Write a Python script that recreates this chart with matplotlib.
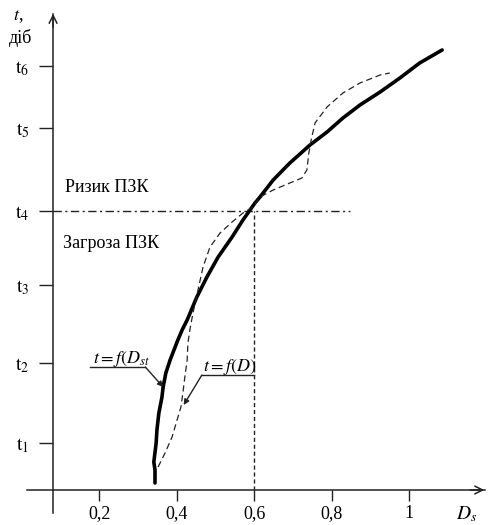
import matplotlib
matplotlib.use('Agg')
import matplotlib.pyplot as plt

plt.rcParams['font.family'] = ['Liberation Serif', 'DejaVu Serif']
plt.rcParams['mathtext.fontset'] = 'stix'

# thick curve t = f(D_st)
dst_x = [0.344, 0.344, 0.341, 0.347, 0.349, 0.354, 0.362, 0.365, 0.372, 0.383, 0.396,
         0.403, 0.414, 0.427, 0.452, 0.478, 0.507, 0.543, 0.571, 0.602, 0.615, 0.649,
         0.692, 0.744, 0.788, 0.829, 0.873, 0.925, 0.976, 1.027, 1.085]
dst_t = [0.07, 0.20, 0.28, 0.47, 0.60, 0.77, 0.93, 1.03, 1.17, 1.30, 1.43,
         1.50, 1.60, 1.70, 1.93, 2.13, 2.33, 2.53, 2.70, 2.87, 2.93, 3.10,
         3.27, 3.45, 3.58, 3.72, 3.85, 3.98, 4.12, 4.27, 4.40]

# dashed curve t = f(D)
d_x = [0.352, 0.370, 0.388, 0.401, 0.411, 0.416, 0.421, 0.427, 0.429, 0.434, 0.442,
       0.455, 0.468, 0.486, 0.512, 0.543, 0.571, 0.597, 0.615, 0.649, 0.692, 0.723,
       0.736, 0.741, 0.747, 0.757, 0.788, 0.829, 0.873, 0.925, 0.950]
d_t = [0.23, 0.37, 0.53, 0.70, 0.83, 0.97, 1.13, 1.30, 1.47, 1.60, 1.77,
       2.00, 2.23, 2.43, 2.57, 2.68, 2.77, 2.83, 2.93, 3.00, 3.07, 3.12,
       3.20, 3.37, 3.50, 3.67, 3.83, 3.97, 4.07, 4.15, 4.17]

x_ticks = [0.2, 0.4, 0.6, 0.8, 1.0]
x_labels = ['0,2', '0,4', '0,6', '0,8', '1']
t_ticks = [0.47, 1.27, 2.05, 2.79, 3.62, 4.24]
t_labels = [r'$\mathrm{t}_{%d}$' % i for i in range(1, 7)]

t_risk = 2.79      # t4 threshold
d_risk = 0.6

ink = '#222222'
fs = 13

fig = plt.figure(figsize=(4.88, 5.25), dpi=100)
ax = fig.add_axes([0, 0, 1, 1])
ax.set_xlim(-0.056, 1.2034)
ax.set_ylim(-0.35, 4.90)

# axes drawn through the plot, with arrow heads
y_axis_x = 0.081
ax.spines['top'].set_visible(False)
ax.spines['right'].set_visible(False)
ax.spines['left'].set_position(('data', y_axis_x))
ax.spines['bottom'].set_position(('data', 0))
ax.spines['left'].set_bounds(-0.23, 4.76)
ax.spines['bottom'].set_bounds(0.014, 1.195)
for s in ('left', 'bottom'):
    ax.spines[s].set_color(ink)
    ax.spines[s].set_linewidth(1.1)

ax.annotate('', xy=(y_axis_x, 4.79), xytext=(y_axis_x, 4.6),
            arrowprops=dict(arrowstyle='->', lw=1.1, color=ink, mutation_scale=14))
ax.annotate('', xy=(1.201, 0), xytext=(1.15, 0),
            arrowprops=dict(arrowstyle='->', lw=1.1, color=ink, mutation_scale=14))

ax.set_xticks(x_ticks, x_labels)
ax.set_yticks(t_ticks, t_labels)
ax.tick_params(axis='x', direction='out', length=8, width=1, color=ink, pad=3, labelsize=fs)
ax.tick_params(axis='y', direction='out', length=10, width=1, color=ink, pad=7, labelsize=fs + 1)

# threshold lines
ax.plot([y_axis_x, 0.847], [t_risk, t_risk], color=ink, lw=1, dashes=(6, 2.5, 1.5, 2.5))
ax.plot([d_risk, d_risk], [0, t_risk], color=ink, lw=1, dashes=(3, 2))

# curves
ax.plot(dst_x, dst_t, color='black', lw=2.6, solid_capstyle='round', solid_joinstyle='round')
ax.plot(d_x, d_t, color=ink, lw=0.9, dashes=(5, 3))

# axis titles
ax.text(-0.010, 4.73, r'$t$,', ha='center', va='center', fontsize=fs)
ax.text(-0.002, 4.52, 'діб', ha='center', va='center', fontsize=fs)
ax.text(1.149, -0.24, r'$D_s$', ha='center', va='center', fontsize=fs + 1)

ax.text(0.112, 3.03, 'Ризик ПЗК', ha='left', va='center', fontsize=fs)
ax.text(0.107, 2.47, 'Загроза ПЗК', ha='left', va='center', fontsize=fs)

# callouts
ax.text(0.184, 1.27, r'$t{=}f(D_{st}$', ha='left', va='baseline', fontsize=fs)
ax.plot([0.175, 0.319], [1.23, 1.23], color=ink, lw=1)
ax.annotate('', xy=(0.365, 1.03), xytext=(0.319, 1.23),
            arrowprops=dict(arrowstyle='-|>', lw=1, color=ink, mutation_scale=8,
                            shrinkA=0, shrinkB=0))

ax.text(0.468, 1.19, r'$t{=}f(D)$', ha='left', va='baseline', fontsize=fs)
ax.plot([0.465, 0.6], [1.15, 1.15], color=ink, lw=1)
ax.annotate('', xy=(0.418, 0.85), xytext=(0.465, 1.15),
            arrowprops=dict(arrowstyle='-|>', lw=1, color=ink, mutation_scale=8,
                            shrinkA=0, shrinkB=0))

fig.savefig('out.png', dpi=100)
